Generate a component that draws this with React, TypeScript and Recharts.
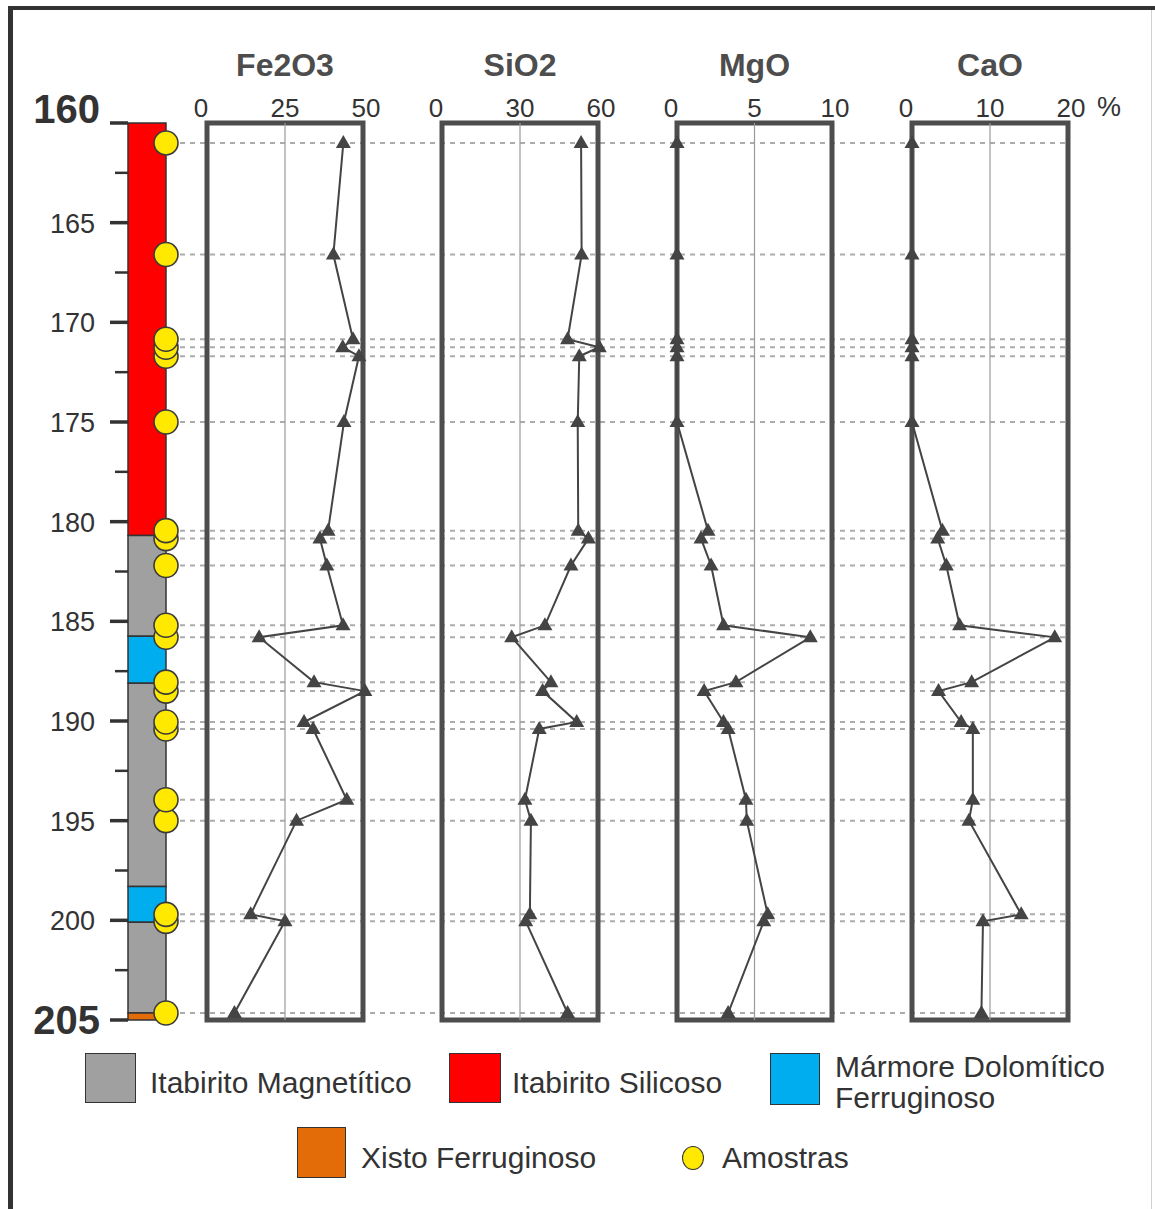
import React from "react";
import {
  ComposedChart,
  Line,
  Scatter,
  XAxis,
  YAxis,
  ReferenceArea,
  ReferenceLine,
} from "recharts";

// sample depths (m) and oxide contents (%)
const depths = [
  161.0, 166.6, 170.85, 171.25, 171.7, 175.0, 180.45, 180.85, 182.2, 185.2,
  185.8, 188.05, 188.5, 190.05, 190.4, 193.95, 195.0, 199.7, 200.05, 204.65,
];
const fe2o3 = [
  43.7, 40.5, 46.8, 43.5, 48.7, 43.9, 38.8, 36.2, 38.4, 43.6, 16.7, 34.3, 50.6,
  31.1, 34.0, 44.8, 28.7, 14.0, 25.0, 8.8,
];
const sio2 = [
  53.5, 53.7, 48.3, 60.5, 52.8, 52.2, 52.4, 56.3, 49.6, 39.6, 26.8, 41.9, 38.7,
  51.8, 37.4, 31.9, 34.2, 33.8, 32.2, 48.3,
];
const mgo = [
  0, 0, 0, 0, 0, 0, 2.0, 1.55, 2.2, 3.0, 8.6, 3.8, 1.75, 3.0, 3.3, 4.45, 4.5,
  5.85, 5.6, 3.3,
];
const cao = [
  0, 0, 0, 0, 0, 0, 3.9, 3.3, 4.4, 6.1, 18.3, 7.65, 3.4, 6.3, 7.8, 7.8, 7.3,
  14.0, 9.1, 8.9,
];

const depthTicks = [
  160, 162.5, 165, 167.5, 170, 172.5, 175, 177.5, 180, 182.5, 185, 187.5, 190,
  192.5, 195, 197.5, 200, 202.5, 205,
];
const fe2o3Ticks = [0, 25, 50];
const sio2Ticks = [0, 30, 60];
const mgoTicks = [0, 5, 10];
const caoTicks = [0, 10, 20];

// lithology column
const layerTops = [160, 180.7, 185.75, 188.1, 198.3, 200.1, 204.65];
const layerBases = [180.7, 185.75, 188.1, 198.3, 200.1, 204.65, 205];
const layerKinds = [
  "silicoso",
  "magnetitico",
  "marmore",
  "magnetitico",
  "marmore",
  "magnetitico",
  "xisto",
];

const lithoColors: Record<string, string> = {
  magnetitico: "#a0a0a0",
  silicoso: "#ff0000",
  marmore: "#00aeef",
  xisto: "#e36c09",
};

const rows = depths.map((depth, i) => ({
  depth,
  col: 1,
  fe2o3: fe2o3[i],
  sio2: sio2[i],
  mgo: mgo[i],
  cao: cao[i],
}));

const FONT = '"Liberation Sans", Arial, Helvetica, sans-serif';
const DARK = "#4d4d4d";
const CHART_H = 1060;
const PLOT_TOP = 123;
const PLOT_BOTTOM = 40; // plot ends at y = 1020
const PAD = 30;
const YELLOW = "#ffe900";

const panels = [
  { title: "Fe2O3", key: "fe2o3", ticks: fe2o3Ticks, boxLeft: 207, boxWidth: 156 },
  { title: "SiO2", key: "sio2", ticks: sio2Ticks, boxLeft: 442, boxWidth: 156 },
  { title: "MgO", key: "mgo", ticks: mgoTicks, boxLeft: 677, boxWidth: 155 },
  { title: "CaO", key: "cao", ticks: caoTicks, boxLeft: 912, boxWidth: 156 },
];

const renderTriangle = (props: any) => {
  const { cx, cy, index } = props;
  if (cx == null || cy == null) return <g key={`n-${index}`} />;
  return (
    <path
      key={`t-${index}`}
      d={`M${cx},${cy - 8} L${cx + 7.5},${cy + 5} L${cx - 7.5},${cy + 5} Z`}
      fill="#444"
    />
  );
};

const renderSample = (props: any) => {
  const { cx, cy } = props;
  return <circle cx={cx} cy={cy} r={12} fill={YELLOW} stroke="#3a3a3a" strokeWidth={1.6} />;
};

const renderDepthTick = (props: any) => {
  const { x, y, payload } = props;
  const v = payload.value;
  const major = v % 5 === 0;
  const ends = v === 160 || v === 205;
  const ty = v === 160 ? y : v === 205 ? y + 14 : y + 10;
  return (
    <g>
      <line
        x1={x - (major ? 18 : 13)}
        x2={x}
        y1={y}
        y2={y}
        stroke="#333"
        strokeWidth={major ? 3.5 : 2.5}
      />
      {major && (
        <text
          x={ends ? x - 28 : x - 33}
          y={ty}
          textAnchor="end"
          fontSize={ends ? 40 : 27}
          fontWeight={ends ? "bold" : "normal"}
          fill="#333"
          fontFamily={FONT}
        >
          {v}
        </text>
      )}
    </g>
  );
};

const makeTopTick = (ticks: number[]) => (props: any) => {
  const { x, y, payload } = props;
  const v = payload.value;
  const dx = v === ticks[0] ? -6 : v === ticks[ticks.length - 1] ? 3 : 0;
  return (
    <text
      x={x + dx}
      y={y - 6}
      textAnchor="middle"
      fontSize={26}
      fill="#333"
      fontFamily={FONT}
    >
      {v}
    </text>
  );
};

const Panel = ({ p }: { p: (typeof panels)[number] }) => {
  const max = p.ticks[p.ticks.length - 1];
  const unit = max / p.boxWidth;
  return (
    <div style={{ position: "absolute", left: p.boxLeft - PAD, top: 0 }}>
      <ComposedChart
        layout="vertical"
        width={p.boxWidth + 2 * PAD}
        height={CHART_H}
        data={rows}
        margin={{ top: PLOT_TOP - 30, bottom: PLOT_BOTTOM, left: 0, right: 0 }}
      >
        <XAxis
          type="number"
          orientation="top"
          domain={[-PAD * unit, max + PAD * unit]}
          ticks={p.ticks}
          interval={0}
          allowDataOverflow
          height={30}
          axisLine={false}
          tickLine={false}
          tickSize={0}
          tickMargin={0}
          tick={makeTopTick(p.ticks)}
        />
        {/* vertical layout already runs the number axis top-down */}
        <YAxis type="number" dataKey="depth" domain={[160, 205]} hide allowDataOverflow />
        <ReferenceLine x={max / 2} stroke="#9a9a9a" strokeWidth={1.2} />
        <ReferenceArea
          x1={0}
          x2={max}
          y1={160}
          y2={205}
          fill="none"
          stroke={DARK}
          strokeWidth={5}
        />
        <Line
          dataKey={p.key}
          stroke="#444"
          strokeWidth={2}
          dot={renderTriangle}
          activeDot={false}
          isAnimationActive={false}
        />
      </ComposedChart>
    </div>
  );
};

const text = (
  label: string,
  left: number,
  top: number,
  size: number,
  extra: React.CSSProperties = {}
) => (
  <div
    style={{
      position: "absolute",
      left,
      top,
      fontSize: size,
      lineHeight: 1,
      whiteSpace: "nowrap",
      color: "#333",
      fontFamily: FONT,
      ...extra,
    }}
  >
    {label}
  </div>
);

const box = (left: number, top: number, w: number, h: number, color: string) => (
  <div
    style={{
      position: "absolute",
      left,
      top,
      width: w,
      height: h,
      background: color,
      border: "1.5px solid #333",
      boxSizing: "border-box",
    }}
  />
);

export default function App() {
  return (
    <div
      style={{
        position: "absolute",
        left: 0,
        top: 0,
        width: 1155,
        height: 1209,
        background: "#fff",
        overflow: "hidden",
        fontFamily: FONT,
      }}
    >
      {/* frame */}
      <div style={{ position: "absolute", left: 8, top: 6, width: 5, height: 1203, background: "#333" }} />
      <div style={{ position: "absolute", left: 8, top: 6, width: 1147, height: 4, background: "#333" }} />
      <div style={{ position: "absolute", left: 1151, top: 10, width: 1, height: 1199, background: "#d0d0d0" }} />

      {/* sample level lines */}
      <div style={{ position: "absolute", left: 180, top: 0 }}>
        <ComposedChart
          width={885}
          height={CHART_H}
          data={rows}
          margin={{ top: PLOT_TOP, bottom: PLOT_BOTTOM, left: 0, right: 0 }}
        >
          <XAxis type="number" dataKey="col" domain={[0, 1]} hide />
          <YAxis type="number" dataKey="depth" domain={[160, 205]} reversed hide />
          {depths.map((d) => (
            <ReferenceLine
              key={d}
              y={d}
              stroke="#acacac"
              strokeWidth={2}
              strokeDasharray="5 5"
            />
          ))}
        </ComposedChart>
      </div>

      {/* depth axis + lithology */}
      <div style={{ position: "absolute", left: 0, top: 0 }}>
        <ComposedChart
          width={184}
          height={CHART_H}
          data={rows}
          margin={{ top: PLOT_TOP, bottom: PLOT_BOTTOM, left: 0, right: 18 }}
        >
          <XAxis type="number" dataKey="col" domain={[0, 1]} hide />
          <YAxis
            type="number"
            dataKey="depth"
            domain={[160, 205]}
            reversed
            ticks={depthTicks}
            interval={0}
            width={128}
            axisLine={false}
            tickLine={false}
            tickSize={0}
            tickMargin={0}
            tick={renderDepthTick}
          />
          {layerTops.map((t, i) => (
            <ReferenceArea
              key={i}
              x1={0}
              x2={1}
              y1={t}
              y2={layerBases[i]}
              fill={lithoColors[layerKinds[i]]}
              fillOpacity={1}
              stroke="#333"
              strokeWidth={1.5}
            />
          ))}
          <Scatter
            data={[...rows].reverse()}
            shape={renderSample}
            isAnimationActive={false}
          />
        </ComposedChart>
      </div>

      {panels.map((p) => (
        <Panel key={p.key} p={p} />
      ))}

      {/* titles */}
      {panels.map((p) =>
        text(p.title, p.boxLeft + p.boxWidth / 2 - 80, 49, 32, {
          width: 160,
          textAlign: "center",
          fontWeight: "bold",
          color: DARK,
        })
      )}
      {text("%", 1097, 94, 27)}

      {/* legend */}
      {box(85, 1053, 51, 50, lithoColors.magnetitico)}
      {text("Itabirito Magnetítico", 150, 1068, 30)}
      {box(449, 1053, 52, 50, lithoColors.silicoso)}
      {text("Itabirito Silicoso", 512, 1068, 30)}
      {box(770, 1053, 50, 52, lithoColors.marmore)}
      {text("Mármore Dolomítico", 835, 1052, 30)}
      {text("Ferruginoso", 835, 1083, 30)}
      {box(297, 1127, 49, 51, lithoColors.xisto)}
      {text("Xisto Ferruginoso", 361, 1143, 30)}
      <div
        style={{
          position: "absolute",
          left: 682,
          top: 1146,
          width: 22,
          height: 24,
          borderRadius: "50%",
          background: YELLOW,
          border: "1.5px solid #333",
          boxSizing: "border-box",
        }}
      />
      {text("Amostras", 722, 1143, 30)}
    </div>
  );
}
